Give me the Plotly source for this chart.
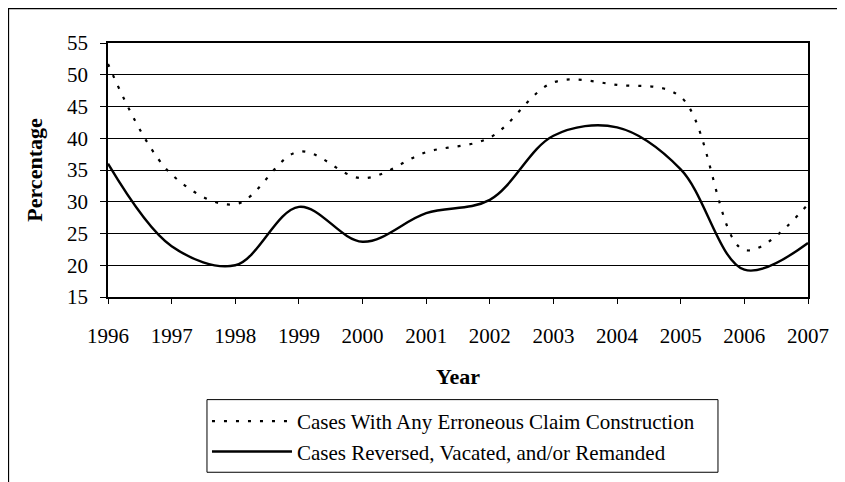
import plotly.graph_objects as go

years = list(range(1996, 2008))
erroneous = [51.7, 34.3, 29.6, 37.9, 33.7, 37.8, 40.1, 48.8, 48.4, 46.5, 22.4, 29.6]
reversed_ = [36.0, 23.0, 20.0, 29.2, 23.7, 28.2, 30.3, 40.4, 41.7, 35.1, 19.3, 23.5]
y_ticks = [15, 20, 25, 30, 35, 40, 45, 50, 55]

names = ["Cases With Any Erroneous Claim Construction",
         "Cases Reversed, Vacated, and/or Remanded"]

FONT = "Liberation Serif, Times New Roman, serif"

fig = go.Figure()
fig.add_trace(go.Scatter(
    x=years, y=erroneous, mode="lines", name=names[0],
    line=dict(color="black", width=2.2, shape="spline", smoothing=1, dash="3px,9px"),
))
fig.add_trace(go.Scatter(
    x=years, y=reversed_, mode="lines", name=names[1],
    line=dict(color="black", width=2.4, shape="spline", smoothing=1),
))

# outer frame (only left and top edges visible in the original)
fig.add_shape(type="path", xref="paper", yref="paper",
              path="M -0.1421,-0.75 L -0.1421,1.1353 L 1.06,1.1353",
              line=dict(color="black", width=1.2))
# legend box, a little wider than plotly's own border
fig.add_shape(type="rect", xref="paper", yref="paper",
              x0=0.1414, x1=0.8714, y0=-0.690, y1=-0.404,
              line=dict(color="black", width=1))

# the page body adds an 8px offset, so the figure is a bit smaller
fig.update_layout(
    width=837, height=474,
    margin=dict(l=100, r=37, t=35, b=184),
    paper_bgcolor="white", plot_bgcolor="white",
    font=dict(family=FONT, size=21, color="black"),
    showlegend=True,
    legend=dict(
        x=0.1414, y=-0.404, xanchor="left", yanchor="top",
        borderwidth=0, bgcolor="rgba(0,0,0,0)",
        font=dict(family=FONT, size=21, color="black"),
        itemwidth=80, tracegroupgap=0,
    ),
    xaxis=dict(
        range=[1996, 2007], tickmode="array", tickvals=years,
        showgrid=False, zeroline=False,
        showline=True, linecolor="black", linewidth=1.5, mirror=True,
        ticks="outside", ticklen=5, tickcolor="black", ticklabelstandoff=14,
        title=dict(text="Year", font=dict(family=FONT, size=22, weight="bold"), standoff=22),
    ),
    yaxis=dict(
        range=[15, 55], tickmode="array", tickvals=y_ticks,
        showgrid=True, gridcolor="black", gridwidth=1, zeroline=False,
        showline=True, linecolor="black", linewidth=1.5, mirror=True,
        ticks="outside", ticklen=6, tickcolor="black", ticklabelstandoff=8,
        title=dict(text="Percentage", font=dict(family=FONT, size=22, weight="bold"), standoff=18),
    ),
)

fig.write_html("out.html")
